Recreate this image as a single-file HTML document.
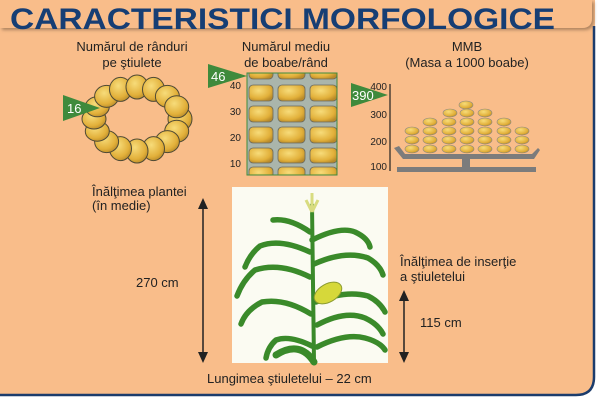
<!DOCTYPE html>
<html><head><meta charset="utf-8"><style>
html,body{margin:0;padding:0;background:#fff}
svg{display:block}
text{font-family:"Liberation Sans",sans-serif}
</style></head><body>
<svg width="600" height="400" viewBox="0 0 600 400" xmlns="http://www.w3.org/2000/svg">
<defs>
<radialGradient id="k" cx="40%" cy="35%" r="70%"><stop offset="0" stop-color="#f7dc7a"/><stop offset="0.7" stop-color="#e2b03a"/><stop offset="1" stop-color="#b88a2a"/></radialGradient>
<filter id="sh" x="-5%" y="-20%" width="110%" height="160%"><feDropShadow dx="2" dy="2" stdDeviation="1.5" flood-color="#7a5a40" flood-opacity="0.6"/></filter>
</defs>
<path d="M0 0 H595 V377 Q595 396 576 396 H0 Z" fill="#f9bd8a"/>
<path d="M594 26 V377 Q594 395 576 395 H0" fill="none" stroke="#1c3c6c" stroke-width="2.5"/>
<path d="M0 0 H592 V18 Q592 28 582 28 H0 Z" fill="#f9bd8a" filter="url(#sh)"/>
<text x="10" y="29" font-size="30" font-weight="bold" fill="#163e74" textLength="545" lengthAdjust="spacingAndGlyphs">CARACTERISTICI  MORFOLOGICE</text>

<g font-size="13" fill="#222" text-anchor="middle">
<text x="132" y="51">Numărul de rânduri</text>
<text x="132" y="67">pe ştiulete</text>
<text x="286" y="51">Numărul mediu</text>
<text x="286" y="67">de boabe/rând</text>
<text x="467" y="51">MMB</text>
<text x="467" y="67">(Masa a 1000 boabe)</text>
</g>

<g fill="url(#k)" stroke="#4f4a35" stroke-width="1">
<ellipse cx="180" cy="119" rx="12" ry="12"/>
<ellipse cx="176.7" cy="131.2" rx="12" ry="11"/>
<ellipse cx="167.4" cy="141.6" rx="12" ry="11"/>
<ellipse cx="153.5" cy="148.6" rx="11" ry="12"/>
<ellipse cx="137" cy="151" rx="11" ry="12"/>
<ellipse cx="120.5" cy="148.6" rx="11" ry="12"/>
<ellipse cx="106.6" cy="141.6" rx="12" ry="11"/>
<ellipse cx="97.3" cy="131.2" rx="12" ry="10"/>
<ellipse cx="94" cy="119" rx="12" ry="10"/>
<ellipse cx="97.3" cy="106.8" rx="12" ry="10"/>
<ellipse cx="106.6" cy="96.4" rx="12" ry="11"/>
<ellipse cx="120.5" cy="89.4" rx="11" ry="12"/>
<ellipse cx="137" cy="87" rx="11" ry="12"/>
<ellipse cx="153.5" cy="89.4" rx="11" ry="12"/>
<ellipse cx="167.4" cy="96.4" rx="12" ry="11"/>
<ellipse cx="176.7" cy="106.8" rx="12" ry="11"/>
</g>
<polygon points="63,95 100,108 63,121" fill="#3f8a3c"/>
<text x="67" y="113" font-size="13" fill="#fff">16</text>

<svg x="247" y="73" width="90" height="102">
<rect width="90" height="102" fill="#aab5ab"/>
<g fill="url(#k)" stroke="#6a6a60" stroke-width="0.8">
<rect x="2" y="-9" width="24" height="15" rx="4"/><rect x="31" y="-9" width="27" height="15" rx="4"/><rect x="63" y="-9" width="27" height="15" rx="4"/>
<rect x="2" y="12" width="24" height="16" rx="4"/><rect x="31" y="12" width="27" height="16" rx="4"/><rect x="63" y="12" width="27" height="16" rx="4"/>
<rect x="2" y="33" width="24" height="16" rx="4"/><rect x="31" y="33" width="27" height="16" rx="4"/><rect x="63" y="33" width="27" height="16" rx="4"/>
<rect x="2" y="54" width="24" height="16" rx="4"/><rect x="31" y="54" width="27" height="16" rx="4"/><rect x="63" y="54" width="27" height="16" rx="4"/>
<rect x="2" y="75" width="24" height="15" rx="4"/><rect x="31" y="75" width="27" height="15" rx="4"/><rect x="63" y="75" width="27" height="15" rx="4"/>
<rect x="2" y="94" width="24" height="15" rx="4"/><rect x="31" y="94" width="27" height="15" rx="4"/><rect x="63" y="94" width="27" height="15" rx="4"/>
</g>
</svg>
<rect x="247" y="73" width="90" height="102" fill="none" stroke="#3f8a3c" stroke-width="1"/>
<g font-size="10" fill="#222" text-anchor="end">
<text x="241" y="89">40</text><text x="241" y="115">30</text><text x="241" y="141">20</text><text x="241" y="167">10</text>
</g>
<polygon points="208,64 247,76 208,88" fill="#3f8a3c"/>
<text x="211" y="81" font-size="13" fill="#fff">46</text>

<line x1="390" y1="84" x2="390" y2="171" stroke="#222" stroke-width="1.2"/>
<g font-size="10" fill="#222" text-anchor="end">
<text x="387" y="90">400</text><text x="387" y="118">300</text><text x="387" y="145">200</text><text x="387" y="170">100</text>
</g>
<polygon points="351,83 388,95 351,107" fill="#3f8a3c"/>
<text x="352" y="100" font-size="13" fill="#fff">390</text>
<g fill="url(#k)" stroke="#888" stroke-width="0.6">
<ellipse cx="466" cy="105" rx="7" ry="4"/>
<ellipse cx="450" cy="113" rx="7" ry="4"/><ellipse cx="467" cy="113" rx="7" ry="4"/><ellipse cx="485" cy="113" rx="7" ry="4"/>
<ellipse cx="430" cy="122" rx="7" ry="4"/><ellipse cx="449" cy="122" rx="7" ry="4"/><ellipse cx="467" cy="122" rx="7" ry="4"/><ellipse cx="485" cy="122" rx="7" ry="4"/><ellipse cx="504" cy="122" rx="7" ry="4"/>
<ellipse cx="412" cy="131" rx="7" ry="4"/><ellipse cx="430" cy="131" rx="7" ry="4"/><ellipse cx="449" cy="131" rx="7" ry="4"/><ellipse cx="467" cy="131" rx="7" ry="4"/><ellipse cx="485" cy="131" rx="7" ry="4"/><ellipse cx="504" cy="131" rx="7" ry="4"/><ellipse cx="522" cy="131" rx="7" ry="4"/>
<ellipse cx="412" cy="140" rx="7" ry="4"/><ellipse cx="430" cy="140" rx="7" ry="4"/><ellipse cx="449" cy="140" rx="7" ry="4"/><ellipse cx="467" cy="140" rx="7" ry="4"/><ellipse cx="485" cy="140" rx="7" ry="4"/><ellipse cx="504" cy="140" rx="7" ry="4"/><ellipse cx="522" cy="140" rx="7" ry="4"/>
<ellipse cx="412" cy="149" rx="7" ry="4"/><ellipse cx="430" cy="149" rx="7" ry="4"/><ellipse cx="449" cy="149" rx="7" ry="4"/><ellipse cx="467" cy="149" rx="7" ry="4"/><ellipse cx="485" cy="149" rx="7" ry="4"/><ellipse cx="504" cy="149" rx="7" ry="4"/><ellipse cx="522" cy="149" rx="7" ry="4"/>
</g>
<path d="M394 148 L399 146 L405 154 H532 L538 148 L540 150 L534 159 H403 Z" fill="#7c7c7c"/>
<rect x="462" y="159" width="8" height="9" fill="#7c7c7c"/>
<rect x="397" y="167" width="139" height="5" fill="#7c7c7c"/>

<rect x="232" y="187" width="156" height="176" fill="#fbfbf2"/>
<g fill="none" stroke="#3a8a2a" stroke-linecap="round" stroke-linejoin="round">
<path d="M312 205 Q313 290 314 362" stroke-width="4"/>
<path d="M276 355 Q300 340 314 362" stroke-width="7"/>
<g stroke-width="5.5">
<path d="M310 232 Q290 218 273 220"/>
<path d="M312 240 Q340 226 355 232 Q368 238 370 247"/>
<path d="M310 252 Q280 238 260 246 Q250 254 245 267"/>
<path d="M314 264 Q345 250 368 258 Q380 265 383 275"/>
<path d="M310 277 Q280 262 255 270 Q243 280 237 296"/>
<path d="M316 302 Q345 290 368 296 Q380 302 385 312"/>
<path d="M311 314 Q285 298 262 302 Q246 310 241 324"/>
<path d="M317 325 Q345 310 365 318 Q378 324 383 334"/>
<path d="M312 346 Q290 335 276 340 Q268 347 266 358"/>
<path d="M317 347 Q345 333 365 338 Q380 342 385 350"/>
</g>
</g>
<ellipse cx="328" cy="293" rx="15" ry="9" transform="rotate(-30 328 293)" fill="#d6d83a" stroke="#8a9a30" stroke-width="1"/>
<path d="M312 212 L306 200 M312 212 L312 193 M312 212 L318 200" stroke="#d8dc80" stroke-width="3"/>

<g stroke="#222" stroke-width="1.5" fill="#222">
<line x1="203" y1="205" x2="203" y2="355"/>
<polygon points="203,198 198,209 208,209" stroke="none"/>
<polygon points="203,363 198,352 208,352" stroke="none"/>
<line x1="404" y1="297" x2="404" y2="355"/>
<polygon points="404,290 399,301 409,301" stroke="none"/>
<polygon points="404,363 399,352 409,352" stroke="none"/>
</g>
<g font-size="13" fill="#222">
<text x="92" y="196">Înălţimea plantei</text>
<text x="92" y="210">(în medie)</text>
<text x="136" y="287">270 cm</text>
<text x="400" y="266">Înălţimea de inserţie</text>
<text x="400" y="281">a ştiuletelui</text>
<text x="420" y="327">115 cm</text>
<text x="207" y="383">Lungimea ştiuletelui  –  22 cm</text>
</g>
</svg>
</body></html>
